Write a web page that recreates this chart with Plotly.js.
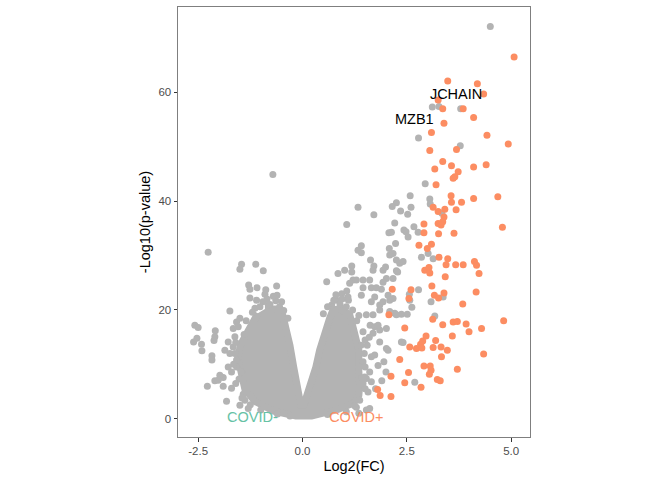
<!DOCTYPE html>
<html>
<head>
<meta charset="utf-8">
<script src="https://cdn.plot.ly/plotly-3.0.1.min.js"></script>
<style>
  html, body { margin: 0; padding: 0; background: #fff; }
  #volcano { width: 672px; height: 480px; }
</style>
</head>
<body>
<div id="volcano"></div>
<script>
// outline of the solid grey cloud (point centres along its edge)
var cloudX = [-1.07, -1.31, -1.48, -1.55, -1.48, -1.38, -1.14, -0.69, -0.16, 0.22, 0.85, 1.23, 1.35, 1.37,
              1.35, 1.35, 1.23, 1.13, 0.89, 0.73, 0.65, 0.53, 0.41, 0.32, 0.18, 0.03, -0.04, -0.14, -0.21,
              -0.30, -0.38, -0.47, -0.66, -0.90];
var cloudY = [19.4, 16.3, 13.7, 11.3, 8.4, 5.4, 3.2, 1.4, 0.5, 0.5, 1.7, 2.9, 4.3, 6.1,
              8.9, 12.6, 16.3, 19.2, 20.2, 20.0, 18.5, 15.7, 12.6, 9.5, 5.8, 2.5, 2.5, 5.8, 9.5,
              13.5, 16.8, 19.0, 20.2, 20.2];

// not significant genes
var nsX = [4.50, 3.11, 3.27, 3.79, 2.78, 3.78, 2.94, 2.58, 3.05, 3.06, 2.25, 2.15, 2.60, 2.35, 1.33, 1.71,
           2.52, 3.34, 2.21, 2.67, 2.43, 2.48, 2.77, 2.07, 2.13, 1.06, 2.53, 2.23, 2.08, 1.41, 1.33, 1.41,
           2.09, 2.25, 2.33, 1.63, 1.71, 1.69, 1.18, 1.01, 0.85, 0.58, 1.18, 1.21, 1.29, 1.45, 1.61, 1.93,
           2.01, 2.17, 2.28, 2.41, 2.85, 3.01, 3.13, 1.13, 1.45, 1.65, 1.89, 1.93, 0.94, 1.06, 1.09, 1.41,
           2.05, 2.09, 2.17, 1.85, 1.65, 0.82, 0.70, 2.21, 2.37, 1.85, 1.53, 2.56, 2.78, 3.08, 3.37, 3.17,
           2.51, 2.41, 2.00, 2.69, 2.62, 2.57, 1.93, 1.99, 2.25, 1.77, 2.17, 1.62, 1.73, 1.85, 1.85, 2.01,
           1.73, 1.81, 1.61, 1.53, 1.65, 1.57, 1.37, 1.61, 1.53, 2.25, 2.37, 1.29,
           1.73, 1.69, 2.09, 1.81, 2.01, 1.69, 2.05, 1.65, 1.49, 1.95, 1.75, 1.90, 1.55, 1.60,
           -2.26, -0.71, -1.46, -1.50, -1.12, -0.94, -1.29, -1.26, -1.09, -0.88, -0.90, -0.62, -0.61, -0.64,
           -1.26, -1.74, -2.58, -2.50, -2.53, -2.61, -2.42, -2.41, -2.09, -2.12, -2.17, -2.17, -2.28, -1.90,
           -2.10, -1.90, -1.82, -1.50, -1.66, -1.62, -1.86, -1.74, -1.58, -1.46, -1.70, -1.98, -2.10, -1.58,
           -1.54, -1.78, -1.66, -1.78, -2.02, -1.70, -1.38, -1.14, -0.82,
           -0.95, -0.78, -0.55, -1.20, -1.02, -0.45, -0.70, -0.35, -1.35,
           -1.40, -1.62, -1.58, -1.52, -1.42, -1.25, -1.00, -0.60, -0.30,
           0.60, 0.75, 0.90, 1.05, 1.20, 0.50, 0.95,
           1.40, 1.45, 1.42, 1.30, 1.45, 1.25, 1.05, 1.50, 0.60,
           -1.50, -1.60, -1.65, -1.60, -1.45, -1.30, -0.85, -1.10, -0.50,
           1.35, 1.50, 1.48, 1.50, 1.45, 1.35, 0.80, 1.10];
var nsY = [72.1, 57.3, 57.4, 57.0, 51.6, 50.2, 43.2, 41.0, 40.4, 39.5, 39.7, 39.0, 38.9, 38.2, 38.9, 37.5,
           37.6, 37.8, 36.0, 35.3, 34.7, 34.4, 34.3, 34.2, 34.3, 35.7, 33.4, 32.2, 31.3, 31.8, 31.0, 30.5,
           30.1, 29.2, 28.6, 29.2, 28.1, 27.3, 28.1, 27.3, 26.7, 25.2, 27.0, 25.5, 25.5, 25.5, 25.5, 27.3,
           25.8, 25.8, 27.0, 28.9, 29.7, 30.4, 29.4, 24.9, 24.1, 24.1, 23.8, 25.1, 23.0, 23.5, 22.4, 22.7,
           22.7, 21.8, 22.1, 20.9, 21.5, 21.8, 20.9, 19.4, 19.2, 20.0, 19.1, 22.9, 23.7, 21.5, 22.4, 18.9,
           19.2, 14.0, 8.6, 6.7, 20.5, 21.8, 21.5, 27.9, 27.2, 24.1, 30.4, 17.2, 16.9, 16.3, 14.1, 12.9,
           11.7, 9.8, 8.6, 7.4, 6.8, 4.9, 3.4, 1.9, 1.6, 19.1, 14.1, 2.1,
           22.4, 19.1, 19.7, 17.2, 16.6, 15.7, 12.6, 11.4, 7.7, 10.5, 5.5, 7.0, 13.5, 15.0,
           30.6, 44.9, 28.4, 27.5, 28.4, 27.2, 24.6, 23.8, 24.1, 23.7, 22.9, 24.4, 22.7, 21.7,
           22.2, 19.8, 17.2, 16.8, 14.8, 14.1, 13.7, 12.5, 16.2, 14.4, 11.6, 10.8, 6.0, 7.6,
           7.0, 6.0, 3.2, 2.5, 16.6, 15.1, 12.6, 12.0, 10.8, 8.6, 8.6, 8.0, 15.1, 17.8,
           16.9, 14.1, 13.2, 9.5, 7.1, 5.6, 3.4, 20.3, 20.9,
           21.5, 21.0, 20.6, 19.6, 20.6, 19.9, 22.5, 18.5, 18.0,
           15.5, 12.0, 9.5, 7.3, 4.5, 2.6, 1.6, 0.9, 0.5,
           20.6, 21.8, 21.0, 20.6, 20.0, 19.3, 22.0,
           13.5, 10.5, 7.5, 18.0, 16.0, 2.4, 1.3, 5.5, 0.8,
           18.5, 14.0, 10.0, 6.5, 3.8, 1.9, 22.0, 21.8, 21.5,
           19.0, 14.5, 12.0, 9.5, 6.5, 1.0, 22.8, 21.8];

// up in COVID+
var upX = [5.07, 3.48, 4.19, 4.34, 3.25, 3.36, 3.85, 4.10, 3.39, 3.09, 4.42, 4.93, 3.69, 3.05, 3.36, 3.57,
           4.10, 4.40, 3.17, 3.73, 3.65, 3.61, 3.20, 3.56, 4.10, 4.68, 3.57, 3.81, 3.13, 3.41, 3.68, 3.25,
           3.39, 3.36, 3.25, 3.32, 2.91, 4.79, 2.91, 3.26, 3.63, 2.79, 3.09, 2.99, 3.27, 3.48, 3.44, 3.67,
           3.85, 4.12, 4.17, 4.23, 2.93, 3.03, 3.05, 3.42, 3.10, 4.16, 2.60, 2.15, 2.55, 3.16, 3.39, 3.26,
           3.84, 2.07, 3.12, 3.36, 3.61, 3.71, 3.92, 4.29, 4.82, 3.99, 2.45, 3.59, 2.96, 3.19, 2.88, 2.83,
           2.57, 2.73, 2.86, 3.13, 3.32, 3.47, 3.33, 4.34, 2.33, 2.91, 3.06, 3.08, 3.04, 3.71, 2.54, 2.12,
           3.23, 3.30, 2.45, 2.84, 1.80, 1.86, 2.12];
var upY = [66.5, 62.1, 61.6, 59.7, 58.6, 57.0, 57.0, 55.4, 54.3, 52.6, 52.1, 50.5, 49.5, 49.3, 47.3, 46.5,
           46.3, 46.7, 45.9, 45.4, 44.5, 44.2, 43.0, 41.0, 40.5, 40.8, 39.8, 39.8, 38.9, 38.5, 38.4, 38.1,
           37.1, 36.2, 35.9, 35.6, 35.8, 35.2, 34.2, 34.0, 34.1, 31.9, 32.1, 31.3, 29.7, 29.4, 28.3, 28.3,
           28.3, 28.9, 28.2, 26.7, 27.3, 27.8, 26.8, 26.1, 24.4, 23.3, 23.7, 23.8, 22.1, 22.7, 23.1, 22.2,
           21.1, 19.1, 18.3, 17.3, 17.8, 17.9, 17.4, 16.6, 18.0, 16.0, 16.7, 15.2, 15.2, 14.4, 14.3, 13.7,
           13.2, 12.9, 13.0, 13.1, 13.2, 12.6, 11.4, 11.9, 10.9, 9.7, 9.7, 8.9, 8.2, 9.1, 8.5, 7.8,
           7.2, 7.0, 6.6, 5.8, 5.4, 4.3, 4.1];

// text labels
var geneText = ["JCHAIN", "MZB1"];
var geneX = [3.68, 2.68];
var geneY = [59.4, 54.9];
var groupText = ["COVID-", "COVID+"];
var groupX = [-1.20, 1.29];
var groupY = [0, 0];

var GREY = "#b3b3b3";
var ORANGE = "#fc8d62";
var GREEN = "#66c2a5";

var data = [
  {
    x: cloudX, y: cloudY, mode: "lines", type: "scatter",
    fill: "toself", fillcolor: GREY,
    line: { color: GREY, width: 7 },
    hoverinfo: "skip"
  },
  {
    x: nsX, y: nsY, mode: "markers", type: "scatter",
    marker: { color: GREY, size: 7 }
  },
  {
    x: upX, y: upY, mode: "markers", type: "scatter",
    marker: { color: ORANGE, size: 7 }
  },
  {
    x: geneX, y: geneY, text: geneText, mode: "text", type: "scatter",
    textfont: { color: "#000", size: 14.5, family: "Liberation Sans, Arial, sans-serif" }
  },
  {
    x: groupX, y: groupY, text: groupText, mode: "text", type: "scatter",
    textfont: { color: [GREEN, ORANGE], size: 14.5, family: "Liberation Sans, Arial, sans-serif" }
  }
];

var layout = {
  width: 672, height: 480,
  margin: { l: 178, r: 142, t: 7, b: 43, pad: 0 },
  paper_bgcolor: "#fff", plot_bgcolor: "#fff",
  showlegend: false,
  font: { family: "Liberation Sans, Arial, sans-serif", color: "#4d4d4d", size: 11.5 },
  xaxis: {
    range: [-2.983, 5.451],
    tickvals: [-2.5, 0, 2.5, 5], ticktext: ["-2.5", "0.0", "2.5", "5.0"],
    ticks: "outside", ticklen: 3.5, tickcolor: "#333", tickwidth: 1,
    showgrid: false, zeroline: false,
    showline: true, mirror: true, linecolor: "#7f7f7f", linewidth: 1,
    title: { text: "Log2(FC)", font: { size: 14.5, color: "#000" }, standoff: 4 }
  },
  yaxis: {
    range: [-3.35, 75.69],
    tickvals: [0, 20, 40, 60],
    ticks: "outside", ticklen: 3.5, tickcolor: "#333", tickwidth: 1,
    showgrid: false, zeroline: false,
    showline: true, mirror: true, linecolor: "#7f7f7f", linewidth: 1,
    title: { text: "-Log10(p-value)", font: { size: 14.5, color: "#000" }, standoff: 4 }
  }
};

Plotly.newPlot("volcano", data, layout, { displayModeBar: false, staticPlot: true });
</script>
</body>
</html>
